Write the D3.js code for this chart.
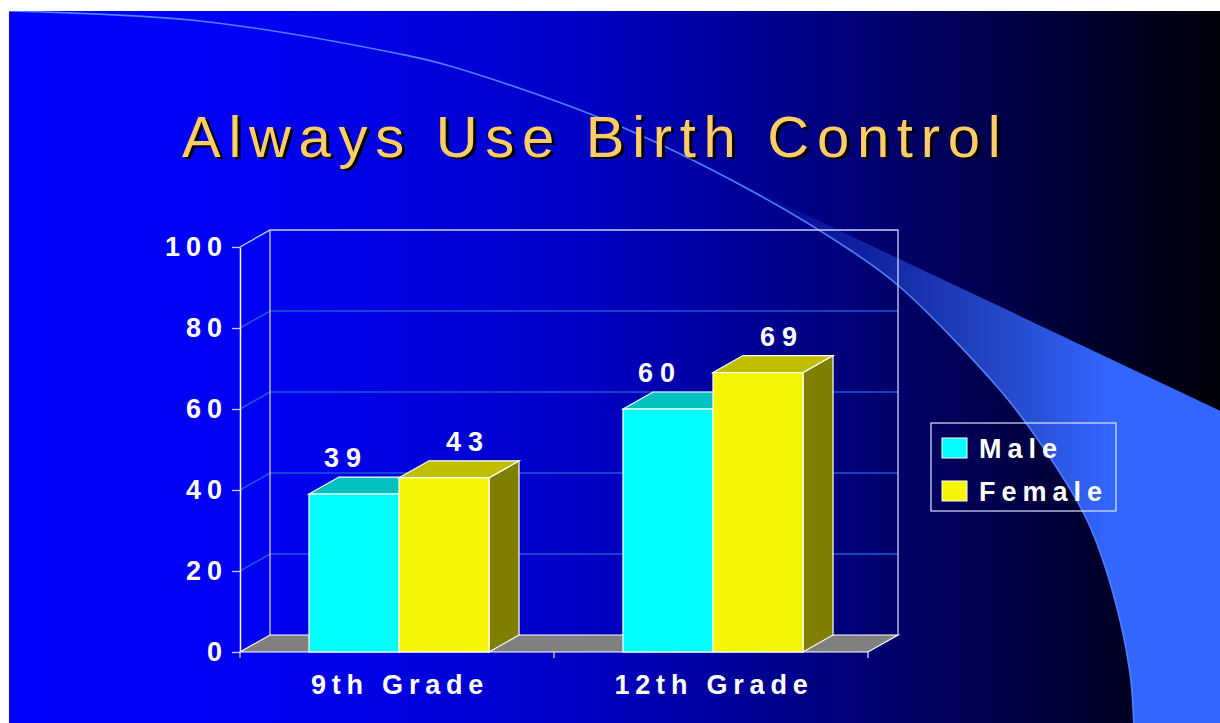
<!DOCTYPE html>
<html lang="en">
<head>
<meta charset="UTF-8">
<title>Always Use Birth Control</title>
<style>
  html, body { margin: 0; padding: 0; background: #ffffff; }
  svg { display: block; }
  text { font-family: "Liberation Sans", Arial, sans-serif; }
</style>
</head>
<body>
<div id="root"></div>
<script src="https://cdn.jsdelivr.net/npm/d3@7"></script>
<script>
// chart data
const categories = ["9th Grade", "12th Grade"]
const series = ["Male", "Female"]
const maleValues = [39, 60]
const femaleValues = [43, 69]
const yTicks = [0, 20, 40, 60, 80, 100]
const title = "Always Use Birth Control"

const W = 1220, H = 723
const slide = {x: 9, y: 11}
const DX = 30, DY = 17   // 3d depth offset

const colors = {
  Male:   {front: "#00ffff", top: "#00c0c0", side: "#008080"},
  Female: {front: "#f5f50a", top: "#bfbf00", side: "#7f7f00"}
}

const svg = d3.select("#root").append("svg")
  .attr("width", W)
  .attr("height", H)

const defs = svg.append("defs")

// background gradient, bright blue to black
const bg = defs.append("linearGradient").attr("id", "bg")
  .attr("gradientUnits", "userSpaceOnUse")
  .attr("x1", slide.x).attr("x2", W).attr("y1", 0).attr("y2", 0)
bg.selectAll("stop").data([
  [0, "#0000ff"], [0.22, "#0000f2"], [0.48, "#0000c4"], [0.65, "#000088"], [0.82, "#00004a"], [1, "#000008"]
]).join("stop").attr("offset", d => d[0]).attr("stop-color", d => d[1])

const sw = defs.append("linearGradient").attr("id", "swoosh")
  .attr("gradientUnits", "userSpaceOnUse")
  .attr("x1", 740).attr("x2", 1110).attr("y1", 0).attr("y2", 0)
sw.append("stop").attr("offset", 0).attr("stop-color", "#3366ff").attr("stop-opacity", 0)
sw.append("stop").attr("offset", 1).attr("stop-color", "#3366ff").attr("stop-opacity", 1)

defs.append("clipPath").attr("id", "slideClip")
  .append("rect").attr("x", slide.x).attr("y", slide.y).attr("width", W - slide.x).attr("height", H - slide.y)

svg.append("rect")
  .attr("x", slide.x).attr("y", slide.y)
  .attr("width", W - slide.x).attr("height", H - slide.y)
  .attr("fill", "url(#bg)")

// decorative swoosh
const edge = [[9, 11], [200, 21], [400, 54], [450, 66], [610, 122], [750, 190], [850, 250], [900, 287],
  [1000, 390], [1043, 447], [1087, 520], [1113, 593], [1130, 673], [1134, 730]]
const deco = svg.append("g").attr("clip-path", "url(#slideClip)")
const curve = d3.line().curve(d3.curveCatmullRom)
const lowerPart = edge.filter(p => p[0] >= 750)
deco.append("path")
  .attr("d", curve(lowerPart) + "L1225,730L1225,413L745,186Z")
  .attr("fill", "url(#swoosh)")
deco.append("path")
  .attr("d", curve(edge))
  .attr("fill", "none")
  .attr("stroke", "#4f80ff")
  .attr("stroke-width", 1.6)

// title with shadow
const titleG = svg.append("g")
titleG.append("text")
  .attr("x", 185).attr("y", 159)
  .attr("fill", "#000000")
  .style("font-size", "58px").style("letter-spacing", "7.7px")
  .text(title)
titleG.append("text")
  .attr("x", 182).attr("y", 157)
  .attr("fill", "#ffcc66")
  .style("font-size", "58px").style("letter-spacing", "7.7px")
  .text(title)

// scales
const y = d3.scaleLinear().domain([0, 100]).range([652, 247])
const x0 = d3.scaleBand().domain(categories).range([240, 868]).padding(0)
const x1 = d3.scaleBand().domain(series).range([2, x0.bandwidth() + 2]).paddingOuter(0.744).paddingInner(0)

const xL = x0.range()[0], xR = x0.range()[1]
const yB = y(0), yT = y(100)

const chart = svg.append("g")

// floor
chart.append("path")
  .attr("d", `M${xL},${yB}L${xR},${yB}L${xR + DX},${yB - DY}L${xL + DX},${yB - DY}Z`)
  .attr("fill", "#808080")
  .attr("stroke", "#ffffff").attr("stroke-width", 1.2)

// gridlines on side wall and back wall
const grid = yTicks.filter(t => t > 0 && t < 100)
chart.selectAll(".grid").data(grid).join("path")
  .attr("class", "grid")
  .attr("d", t => `M${xL},${y(t)}L${xL + DX},${y(t) - DY}L${xR + DX},${y(t) - DY}`)
  .attr("fill", "none")
  .attr("stroke", "#1c58d8")
  .attr("stroke-width", 1.6)

// walls outline
chart.append("path")
  .attr("d", `M${xL},${yT}L${xL + DX},${yT - DY}L${xR + DX},${yT - DY}L${xR + DX},${yB - DY}` +
             `M${xL + DX},${yT - DY}L${xL + DX},${yB - DY}`)
  .attr("fill", "none")
  .attr("stroke", "#c8d0ff")
  .attr("stroke-width", 1.3)

// y axis
const yAxis = d3.axisLeft(y).tickValues(yTicks).tickSize(8).tickSizeOuter(0).tickPadding(4)
const yG = chart.append("g").attr("transform", `translate(${xL},0)`).call(yAxis)
yG.select(".domain").attr("stroke", "#ffffff").attr("stroke-width", 1.5)
yG.selectAll(".tick line").attr("stroke", "#c8d0ff").attr("stroke-width", 1.3)
yG.selectAll(".tick text")
  .attr("fill", "#ffffff")
  .style("font-size", "27px").style("font-weight", "bold").style("letter-spacing", "6px")
  .style("font-family", "'Liberation Sans', Arial, sans-serif")

// x axis labels and edge ticks
const xAxis = d3.axisBottom(x0).tickSize(0).tickPadding(23)
const xG = chart.append("g").attr("transform", `translate(0,${yB})`).call(xAxis)
xG.select(".domain").remove()
xG.selectAll(".tick text")
  .attr("fill", "#ffffff")
  .attr("dx", 3)
  .style("font-size", "27px").style("font-weight", "bold").style("letter-spacing", "5.8px")
  .style("font-family", "'Liberation Sans', Arial, sans-serif")
const edges = categories.map(c => x0(c)).concat([xR])
xG.selectAll(".edge").data(edges).join("line")
  .attr("class", "edge")
  .attr("x1", d => d).attr("x2", d => d)
  .attr("y1", 0).attr("y2", 6)
  .attr("stroke", "#c8d0ff").attr("stroke-width", 1.3)

// bars
const rows = []
categories.forEach((c, i) => {
  rows.push({cat: c, s: "Male", v: maleValues[i]})
  rows.push({cat: c, s: "Female", v: femaleValues[i]})
})

const barG = chart.selectAll(".bar").data(rows).join("g").attr("class", "bar")
barG.each(function(d) {
  const g = d3.select(this)
  const xa = x0(d.cat) + x1(d.s)
  const xb = xa + x1.bandwidth()
  const yt = y(d.v)
  const c = colors[d.s]
  g.append("path")
    .attr("d", `M${xb},${yB}L${xb + DX},${yB - DY}L${xb + DX},${yt - DY}L${xb},${yt}Z`)
    .attr("fill", c.side).attr("stroke", "#ffffff").attr("stroke-width", 1.2)
  g.append("path")
    .attr("d", `M${xa},${yt}L${xa + DX},${yt - DY}L${xb + DX},${yt - DY}L${xb},${yt}Z`)
    .attr("fill", c.top).attr("stroke", "#ffffff").attr("stroke-width", 1.2)
  g.append("rect")
    .attr("x", xa).attr("y", yt)
    .attr("width", xb - xa).attr("height", yB - yt)
    .attr("fill", c.front).attr("stroke", "#ffffff").attr("stroke-width", 1.2)
})

// value labels
const labelShift = {Male: -12, Female: 20}
chart.selectAll(".val").data(rows).join("text")
  .attr("class", "val")
  .attr("x", d => x0(d.cat) + x1(d.s) + x1.bandwidth() / 2 + labelShift[d.s] + 4)
  .attr("y", d => y(d.v) - DY - 10)
  .attr("text-anchor", "middle")
  .attr("fill", "#ffffff")
  .style("font-size", "27px").style("font-weight", "bold").style("letter-spacing", "7px")
  .text(d => d.v)

// legend
const legend = svg.append("g").attr("transform", "translate(931,423)")
legend.append("rect")
  .attr("width", 185).attr("height", 88)
  .attr("fill", "none").attr("stroke", "#e0e4ff").attr("stroke-width", 1.2)
const li = legend.selectAll(".li").data(series).join("g")
  .attr("class", "li")
  .attr("transform", (d, i) => `translate(11,${15 + i * 43})`)
li.append("rect")
  .attr("width", 25).attr("height", 20)
  .attr("fill", d => colors[d].front)
  .attr("stroke", "#ffffff").attr("stroke-width", 1)
li.append("text")
  .attr("x", 37).attr("y", 20)
  .attr("fill", "#ffffff")
  .style("font-size", "27px").style("font-weight", "bold").style("letter-spacing", "6px")
  .text(d => d)
</script>
</body>
</html>
